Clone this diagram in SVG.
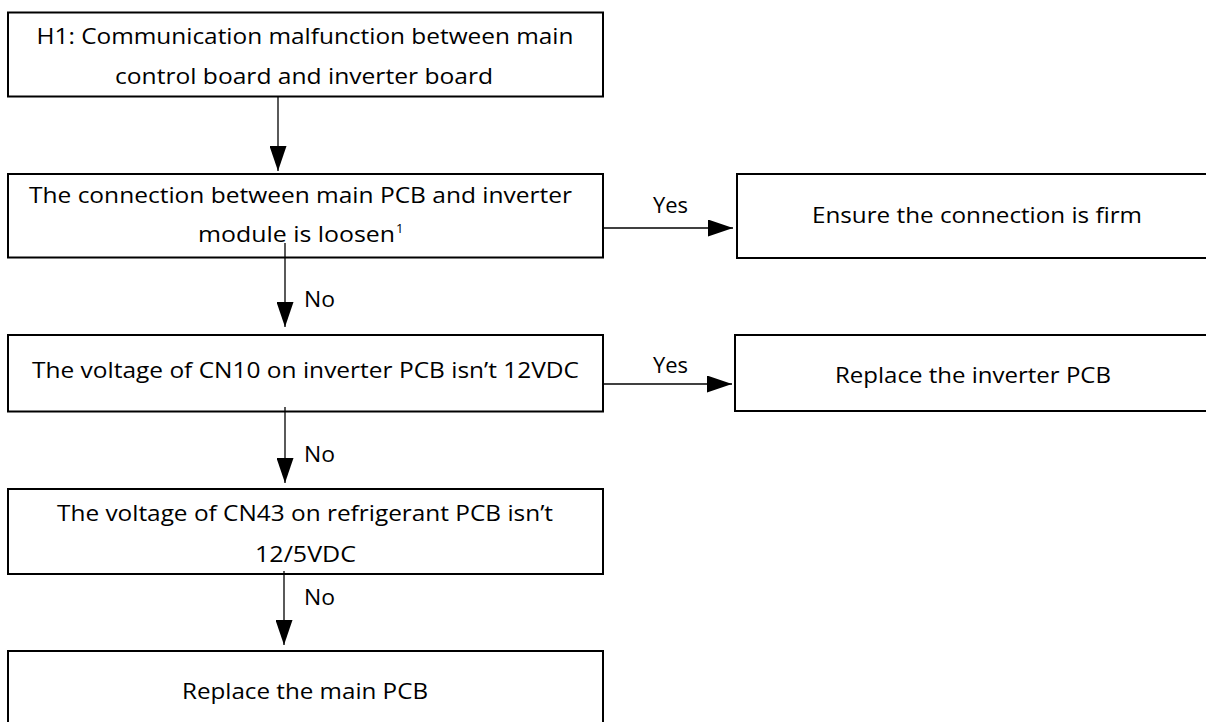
<svg xmlns="http://www.w3.org/2000/svg" width="1206" height="722" viewBox="0 0 1206 722">
<style>
  .box { fill: #ffffff; stroke: #000000; stroke-width: 2; }
  .t { font-family: "Open Sans", Lato, "Liberation Sans", sans-serif; font-size: 21.5px; fill: #000000; text-anchor: middle; }
  .lbl { font-family: "Open Sans", Lato, "Liberation Sans", sans-serif; font-size: 21.5px; fill: #000000; }
  .sup { font-size: 13px; }
  .conn { stroke: #000000; stroke-width: 1.3; fill: none; }
</style>
<defs>
  <marker id="arr" markerUnits="userSpaceOnUse" markerWidth="26" markerHeight="17" refX="25" refY="8.5" orient="auto">
    <path d="M0,0 L25,8.5 L0,17 Z" fill="#000000"/>
  </marker>
</defs>
<rect x="0" y="0" width="1206" height="722" fill="#ffffff"/>

<g id="n1">
  <rect class="box" x="8" y="12.5" width="595" height="84"/>
  <text class="t" x="305" y="44" textLength="537" lengthAdjust="spacingAndGlyphs">H1: Communication malfunction between main</text>
  <text class="t" x="304" y="84" textLength="378" lengthAdjust="spacingAndGlyphs">control board and inverter board</text>
</g>

<g id="n2">
  <rect class="box" x="8" y="174" width="595" height="83.5"/>
  <text class="t" x="300.5" y="203" textLength="543" lengthAdjust="spacingAndGlyphs">The connection between main PCB and inverter</text>
  <text class="lbl" x="198" y="242" textLength="197" lengthAdjust="spacingAndGlyphs">module is loosen</text>
  <text class="lbl sup" x="396" y="233">1</text>
</g>

<g id="n3">
  <rect class="box" x="737" y="174" width="480" height="84"/>
  <text class="t" x="977" y="223" textLength="330" lengthAdjust="spacingAndGlyphs">Ensure the connection is firm</text>
</g>

<g id="n4">
  <rect class="box" x="8" y="335" width="595" height="76.5"/>
  <text class="t" x="305.5" y="378" textLength="547" lengthAdjust="spacingAndGlyphs">The voltage of CN10 on inverter PCB isn’t 12VDC</text>
</g>

<g id="n5">
  <rect class="box" x="735" y="335" width="482" height="76"/>
  <text class="t" x="973" y="383" textLength="276" lengthAdjust="spacingAndGlyphs">Replace the inverter PCB</text>
</g>

<g id="n6">
  <rect class="box" x="8" y="489" width="595" height="85"/>
  <text class="t" x="305" y="521" textLength="496" lengthAdjust="spacingAndGlyphs">The voltage of CN43 on refrigerant PCB isn’t</text>
  <text class="t" x="305.5" y="562" textLength="101" lengthAdjust="spacingAndGlyphs">12/5VDC</text>
</g>

<g id="n7">
  <rect class="box" x="8" y="651" width="595" height="100"/>
  <text class="t" x="305" y="699" textLength="246" lengthAdjust="spacingAndGlyphs">Replace the main PCB</text>
</g>

<g id="connectors">
  <line class="conn" x1="278" y1="97" x2="278" y2="171" marker-end="url(#arr)"/>
  <line class="conn" x1="285" y1="243" x2="285" y2="327" marker-end="url(#arr)"/>
  <line class="conn" x1="285" y1="407" x2="285" y2="483" marker-end="url(#arr)"/>
  <line class="conn" x1="284" y1="571" x2="284" y2="645" marker-end="url(#arr)"/>
  <line class="conn" x1="603" y1="228" x2="733" y2="228" marker-end="url(#arr)"/>
  <line class="conn" x1="603" y1="384" x2="732" y2="384" marker-end="url(#arr)"/>
  <text class="lbl" x="653" y="213" textLength="35" lengthAdjust="spacingAndGlyphs">Yes</text>
  <text class="lbl" x="653" y="373" textLength="35" lengthAdjust="spacingAndGlyphs">Yes</text>
  <text class="lbl" x="304" y="307" textLength="31" lengthAdjust="spacingAndGlyphs">No</text>
  <text class="lbl" x="304" y="462" textLength="31" lengthAdjust="spacingAndGlyphs">No</text>
  <text class="lbl" x="304" y="605" textLength="31" lengthAdjust="spacingAndGlyphs">No</text>
</g>
</svg>
